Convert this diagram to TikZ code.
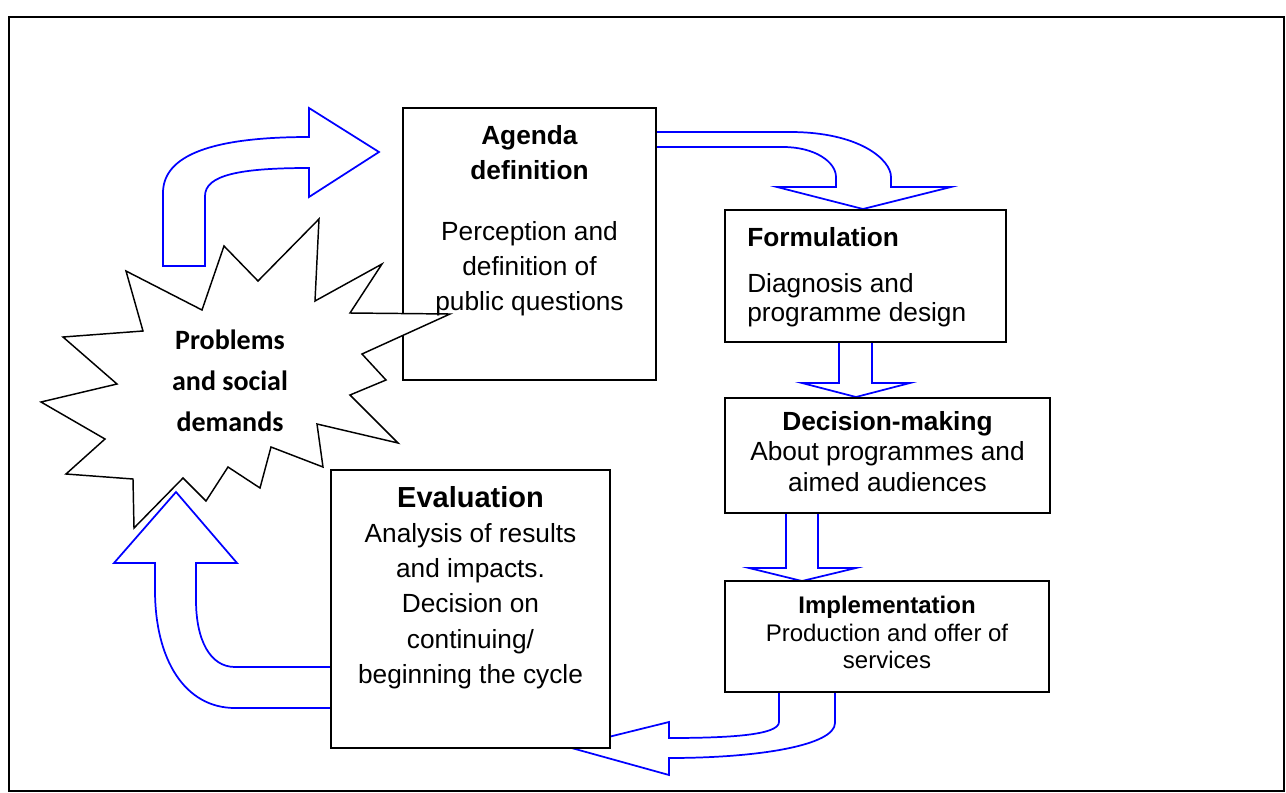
\documentclass[tikz,border=0pt]{standalone}
\usepackage{fontspec}
\setmainfont{Liberation Sans}
\newfontfamily\burstfont{Carlito}
\usepackage{tikz}

\begin{document}
\begin{tikzpicture}[x=0.75pt, y=-0.75pt,
		box/.style={draw=black, line width=1.4pt, fill=white, inner sep=0pt},
		blk/.style={draw=blue, line width=1.3pt, line join=miter},
		txt/.style={inner sep=0pt, align=center, font=\fontsize{19.7}{26.4}\selectfont}]
	\useasboundingbox (0,0) rectangle (1286,793);
	\draw[line width=1.1pt] (9,17) rectangle (1284,791);

	% Arrows
	\draw[blk] (163,266) -- (163,193) .. controls (163,160) and (200,137) .. (309,137)
		-- (309,108) -- (379,152) -- (309,197) -- (309,168)
		.. controls (240,168) and (205,175) .. (205,196) -- (205,266) -- cycle;
	\draw[blk] (656,132) -- (790,132) .. controls (860,132) and (891,160) .. (891,177)
		-- (891,187) -- (951,187) -- (863,209) -- (777,187) -- (836,187) -- (836,177)
		.. controls (836,162) and (815,147) .. (783,147) -- (656,147);
	\draw[blk] (839,342) -- (839,383) -- (802,383) -- (856,397) -- (910,383) -- (872,383) -- (872,342);
	\draw[blk] (786,513) -- (786,568) -- (749,568) -- (802,581) -- (856,568) -- (818,568) -- (818,513);
	\draw[blk] (779,692) -- (779,722) .. controls (779,735) and (730,738) .. (669,738)
		-- (669,722) -- (568,747) -- (669,775) -- (669,758)
		.. controls (760,758) and (835,745) .. (835,723) -- (835,692);
	\draw[blk] (331,667) -- (235,667) .. controls (210,667) and (196,640) .. (196,600)
		-- (196,563) -- (237,563) -- (176,492) -- (114,563) -- (155,563) -- (155,590)
		.. controls (155,660) and (185,708) .. (235,708) -- (331,708);

	% Boxes
	\node[box, minimum width=189.75pt, minimum height=204pt] (agenda) at (529.5,244) {};
	\node[box, minimum width=210.75pt, minimum height=99pt] (form) at (865.5,276) {};
	\node[box, minimum width=243.75pt, minimum height=86.25pt] (decision) at (887.5,455.5) {};
	\node[box, minimum width=243pt, minimum height=83.25pt] (impl) at (887,636.5) {};
	\node[box, minimum width=209.25pt, minimum height=208.5pt] (eval) at (470.5,609) {};

	% Starburst
	\draw[line width=1.1pt, fill=white] (126,271) -- (202,310) -- (224,246) -- (258,281)
		-- (319,219) -- (315,301) -- (382,264) -- (350,313) -- (450,314) -- (362,354)
		-- (386,380) -- (350,395) -- (398,443) -- (317,424) -- (323,467) -- (271,447)
		-- (260,488) -- (228,467) -- (206,501) -- (183,478) -- (134,528) -- (133,479)
		-- (66,474) -- (105,439) -- (41,402) -- (117,384) -- (63,337) -- (143,331) -- cycle;

	% Texts
	\node[txt, anchor=north, font=\burstfont\fontsize{21}{30.75}\selectfont\bfseries] (burst) at (230,330)
		{Problems\\ and social\\ demands};
	\node[txt, anchor=north] (agendatext) at (529.5,125)
		{\textbf{Agenda}\\ \textbf{definition}\\[19.4pt] Perception and\\ definition of\\ public questions};
	\node[txt, anchor=north west, align=left, font=\fontsize{19.7}{21.75}\selectfont] (formtext) at (747,227)
		{\textbf{Formulation}\\[12.75pt] Diagnosis and\\ programme design};
	\node[txt, anchor=north, font=\fontsize{19.7}{22.9}\selectfont] (decisiontext) at (887.5,411)
		{\textbf{Decision-making}\\ About programmes and\\ aimed audiences};
	\node[txt, anchor=north, font=\fontsize{18}{20.6}\selectfont] (impltext) at (887,596)
		{\textbf{Implementation}\\ Production and offer of\\ services};
	\node[txt, anchor=north] (evaltext) at (470.5,486)
		{\fontsize{21.75}{26}\selectfont\bfseries Evaluation\\ Analysis of results\\ and impacts.\\ Decision on\\ continuing/\\ beginning the cycle};
\end{tikzpicture}
\end{document}
